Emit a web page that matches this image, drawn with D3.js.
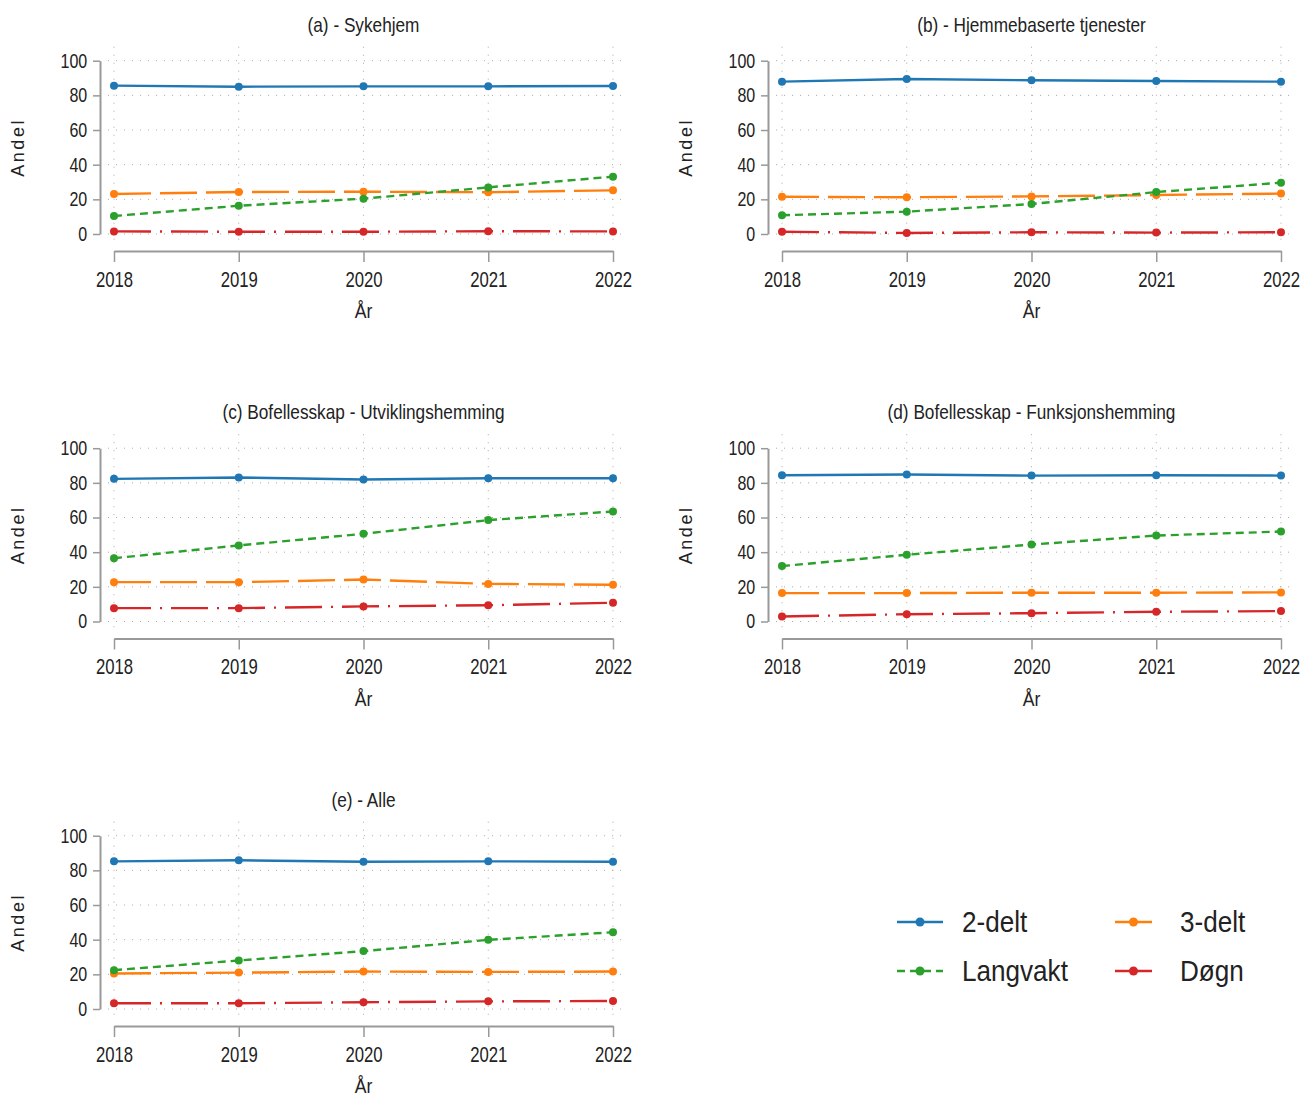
<!DOCTYPE html>
<html>
<head>
<meta charset="utf-8">
<script src="https://cdn.jsdelivr.net/npm/d3@7"></script>
<style>
  body { margin: 0; background: #fff; }
  svg text { fill: #222; font-family: "Liberation Sans", Arial, sans-serif; }
</style>
</head>
<body>
<div id="chart"></div>
<script>
// data
var years = [2018, 2019, 2020, 2021, 2022];
var panelTitles = ["(a) - Sykehjem", "(b) - Hjemmebaserte tjenester",
  "(c) Bofellesskap - Utviklingshemming", "(d) Bofellesskap - Funksjonshemming", "(e) - Alle"];
var seriesNames = ["2-delt", "3-delt", "Langvakt", "Døgn"];
var seriesColors = ["#1f77b4", "#ff7f0e", "#2ca02c", "#d62728"];
var seriesDash = [null, "37,9", "8,5", "37,9,2,9"];

// one row per panel (a..e)
var toDelt = [
  [85.6, 85.0, 85.2, 85.2, 85.4],
  [87.9, 89.4, 88.7, 88.3, 87.9],
  [82.3, 83.1, 81.9, 82.7, 82.7],
  [84.4, 84.8, 84.2, 84.4, 84.2],
  [85.2, 85.8, 85.0, 85.2, 85.0]
];
var treDelt = [
  [23.1, 24.2, 24.4, 24.1, 25.2],
  [21.5, 21.2, 21.7, 22.5, 23.3],
  [22.7, 22.7, 24.2, 21.7, 21.2],
  [16.4, 16.4, 16.6, 16.6, 16.8],
  [20.5, 21.0, 21.6, 21.4, 21.6]
];
var langvakt = [
  [10.4, 16.3, 20.4, 26.9, 33.1],
  [10.8, 12.9, 17.3, 24.2, 29.6],
  [36.5, 43.9, 50.6, 58.5, 63.5],
  [32.0, 38.5, 44.4, 49.6, 51.9],
  [22.4, 28.0, 33.4, 39.9, 44.3]
];
var dogn = [
  [1.5, 1.3, 1.3, 1.6, 1.5],
  [1.3, 0.6, 1.0, 0.8, 1.0],
  [7.7, 7.7, 8.7, 9.4, 10.8],
  [2.9, 4.2, 4.8, 5.6, 6.0],
  [3.3, 3.3, 3.9, 4.4, 4.6]
];
var yTicks = [0, 20, 40, 60, 80, 100];

var allSeries = [toDelt, treDelt, langvakt, dogn];

var W = 1302, H = 1097;
var svg = d3.select("#chart").append("svg")
  .attr("width", W).attr("height", H);

var panelLeft = [114, 782];   // x of 2018
var plotW = 499;              // 2018 -> 2022
var rowTop = 60.7;            // y of 100
var rowStep = 387.5;
var plotH = 173.3;

// no narrow font installed, so squeeze text horizontally
function squeezed(parent, x, y, s, size, str, anchor) {
  return parent.append("text")
    .attr("transform", "translate(" + x + "," + y + ")scale(" + s + ",1)")
    .attr("text-anchor", anchor || "middle")
    .style("font-size", size + "px")
    .text(str);
}

function drawPanel(p) {
  var col = p % 2, row = Math.floor(p / 2);
  var x0 = panelLeft[col], y0 = rowTop + row * rowStep;

  var x = d3.scaleLinear().domain([2018, 2022]).range([x0, x0 + plotW]);
  var y = d3.scaleLinear().domain([0, 100]).range([y0 + plotH, y0]);

  var g = svg.append("g");

  // dotted grid
  var gx = [x.invert(x0 - 6), x.invert(x0 + plotW + 12)];
  var gy = [y.invert(y0 - 14), y.invert(y0 + plotH + 8)];
  g.selectAll(".hg").data(yTicks).enter().append("line")
    .attr("x1", x(gx[0])).attr("x2", x(gx[1]))
    .attr("y1", function(d) { return y(d); }).attr("y2", function(d) { return y(d); })
    .attr("stroke", "#aaa").attr("stroke-width", 1).attr("stroke-dasharray", "1,7");
  g.selectAll(".vg").data(years).enter().append("line")
    .attr("x1", function(d) { return x(d); }).attr("x2", function(d) { return x(d); })
    .attr("y1", y(gy[0])).attr("y2", y(gy[1]))
    .attr("stroke", "#aaa").attr("stroke-width", 1).attr("stroke-dasharray", "1,7");

  // y axis
  var ya = g.append("g")
    .attr("transform", "translate(" + (x0 - 14) + ",0)")
    .call(d3.axisLeft(y).tickValues(yTicks).tickSize(7).tickSizeOuter(0).tickPadding(9));
  ya.selectAll(".tick text").style("font-size", "20px")
    .attr("transform", "scale(0.8,1)");
  // x axis
  var xa = g.append("g")
    .attr("transform", "translate(0," + (y0 + plotH + 17) + ")")
    .call(d3.axisBottom(x).tickValues(years).tickFormat(d3.format("d")).tickSize(11).tickSizeOuter(0).tickPadding(9));
  xa.selectAll(".tick text").style("font-size", "22px")
    .attr("transform", "scale(0.76,1)");
  [ya, xa].forEach(function(a) {
    a.select(".domain").attr("stroke", "#999").attr("stroke-width", 2);
    a.selectAll(".tick line").attr("stroke", "#999").attr("stroke-width", 1.5);
    a.selectAll(".tick text").attr("fill", "#222")
      .style("font-family", "'Liberation Sans', Arial, sans-serif");
  });

  // titles
  squeezed(g, x(2020), y0 - 29, 0.82, 21, panelTitles[p]);
  squeezed(g, x(2020), y0 + plotH + 84, 0.84, 21, "År");
  g.append("text")
    .attr("transform", "translate(" + (x0 - 90) + "," + (y0 + plotH / 2) + ")rotate(-90)")
    .attr("text-anchor", "middle")
    .style("font-size", "18px").style("letter-spacing", "2.6px")
    .text("Andel");

  // series
  var line = d3.line()
    .x(function(d, i) { return x(years[i]); })
    .y(function(d) { return y(d); });
  [1, 2, 3, 0].forEach(function(s) {
    var vals = allSeries[s][p];
    g.append("path").datum(vals)
      .attr("d", line)
      .attr("fill", "none")
      .attr("stroke", seriesColors[s])
      .attr("stroke-width", 2.4)
      .attr("stroke-dasharray", seriesDash[s]);
    g.selectAll(".pt" + s).data(vals).enter().append("circle")
      .attr("cx", function(d, i) { return x(years[i]); })
      .attr("cy", function(d) { return y(d); })
      .attr("r", 4)
      .attr("fill", seriesColors[s]);
  });
}

for (var p = 0; p < panelTitles.length; p++) drawPanel(p);

// legend
var legendPos = [[897, 922], [1115, 922], [897, 971], [1115, 971]];
var legendLen = [46, 37, 46, 37];
var legendDash = [null, null, "8,5", null];
var lg = svg.append("g");
seriesNames.forEach(function(name, s) {
  var lx = legendPos[s][0], ly = legendPos[s][1];
  lg.append("line")
    .attr("x1", lx).attr("x2", lx + legendLen[s])
    .attr("y1", ly).attr("y2", ly)
    .attr("stroke", seriesColors[s]).attr("stroke-width", 2.5)
    .attr("stroke-dasharray", legendDash[s]);
  lg.append("circle")
    .attr("cx", lx + legendLen[s] / 2).attr("cy", ly).attr("r", 4.5)
    .attr("fill", seriesColors[s]);
  squeezed(lg, lx + 65, ly + 10, 0.9, 29, name, "start");
});
</script>
</body>
</html>
